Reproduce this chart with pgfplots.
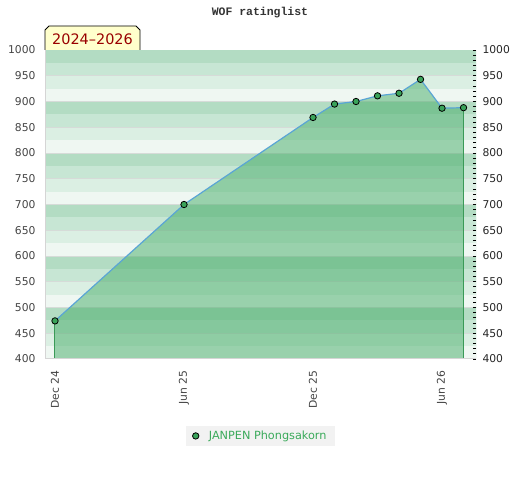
\documentclass[border=0pt]{standalone}
\usepackage{pgfplots}
\pgfplotsset{compat=1.18}
\usepackage{fontspec}
\setmainfont{DejaVu Sans}
\newfontfamily\monob{Liberation Mono}
\definecolor{bandA}{HTML}{B3DCC3}
\definecolor{bandB}{HTML}{C7E6D4}
\definecolor{bandC}{HTML}{DBEFE3}
\definecolor{bandD}{HTML}{EFF7F2}
\definecolor{gridc}{HTML}{D6DBD8}
\definecolor{fillg}{HTML}{45AC67}
\definecolor{edgeg}{HTML}{3A9A57}
\definecolor{lineb}{HTML}{5AA5D5}
\definecolor{markg}{HTML}{3AA35A}
\definecolor{legg}{HTML}{3AAA5A}
\definecolor{legbg}{HTML}{F2F2F2}
\definecolor{labg}{HTML}{444444}
\definecolor{axg}{HTML}{D5D5D5}
\definecolor{boxy}{HTML}{FFFFCC}
\definecolor{boxr}{HTML}{990000}
\begin{document}
\begin{tikzpicture}
\path[use as bounding box] (0,0) rectangle (520bp,480bp);
\begin{axis}[
  at={(45bp,121bp)}, anchor=south west,
  scale only axis, width=431bp, height=309bp,
  xmin=-0.465, xmax=19.58, ymin=400, ymax=1000,
  axis line style={draw=none},
  xtick={0,6,12,18}, xticklabels={Dec 24,Jun 25,Dec 25,Jun 26},
  ytick={400,450,...,1000},
  major tick length=0pt,
  /pgf/number format/assume math mode=true,
  /pgf/number format/1000 sep={},
  tick label style={font=\fontsize{10.8}{12}\selectfont, text=labg},
  xticklabel style={rotate=90, anchor=east},
  xticklabel shift=8bp,
  yticklabel shift=6bp,
  legend style={at={(0.5,-0.249)}, anchor=center, fill=legbg, draw=none,
    font=\fontsize{11.3}{13}\selectfont, text=legg, inner xsep=7bp, inner ysep=3bp,
    /tikz/every odd column/.append style={column sep=8bp}},
  legend image code/.code={\draw[#1] plot coordinates {(0bp,0bp)};},
  legend cell align=left,
]
\fill[bandA] (axis cs:-1,400) rectangle (axis cs:21,1000);
\pgfplotsinvokeforeach{4,5,6,7,8,9}{
  \fill[bandB] (axis cs:-1,#150) rectangle (axis cs:21,#175);
  \fill[bandC] (axis cs:-1,#125) rectangle (axis cs:21,#150);
  \fill[bandD] (axis cs:-1,#100) rectangle (axis cs:21,#125);
  \draw[gridc, line width=0.6bp] (axis cs:-1,#150) -- (axis cs:21,#150);
  \draw[gridc, line width=0.6bp] (axis cs:-1,#100) -- (axis cs:21,#100);
}
\addplot[fill=fillg, fill opacity=0.5, draw=none, forget plot] coordinates {
  (0,400) (0,474) (6,700) (12,869) (13,895) (14,900) (15,911) (16,916) (17,943) (18,887) (19,888) (19,400)
};
\addplot[edgeg, line width=1bp, forget plot] coordinates {(0,400) (0,474)};
\addplot[edgeg, line width=1bp, forget plot] coordinates {(19,888) (19,400)};
\addplot[lineb, line width=1.2bp, forget plot] coordinates {
  (0,474) (6,700) (12,869) (13,895) (14,900) (15,911) (16,916) (17,943) (18,887) (19,888)
};
\draw[axg, line width=1.5bp] (rel axis cs:0,1) -- (rel axis cs:0,0) -- (rel axis cs:1,0);
\addplot[only marks, mark=*, mark size=3.2bp, mark options={fill=markg, draw=black, line width=0.8bp}] coordinates {
  (0,474) (6,700) (12,869) (13,895) (14,900) (15,911) (16,916) (17,943) (18,887) (19,888)
};
\addlegendentry{JANPEN Phongsakorn}
\end{axis}
\begin{axis}[
  at={(45bp,121bp)}, anchor=south west,
  scale only axis, width=431bp, height=309bp,
  xmin=-0.465, xmax=19.58, ymin=400, ymax=1000,
  hide x axis,
  axis y line*=right,
  y axis line style={draw=none},
  ytick={400,450,...,1000},
  minor y tick num=4,
  tick align=inside,
  major tick length=3.5bp, minor tick length=3.5bp,
  every tick/.style={color=black, line width=0.8bp},
  /pgf/number format/assume math mode=true,
  /pgf/number format/1000 sep={},
  yticklabel style={font=\fontsize{10.8}{12}\selectfont, text=black!85},
  yticklabel shift=3bp,
]
\addplot[draw=none] coordinates {(0,400)};
\end{axis}
\filldraw[fill=boxy, draw=black, line width=0.8bp] (45bp,430bp) -- (45bp,450bp) -- (49bp,454bp) -- (136bp,454bp) -- (140bp,450bp) -- (140bp,430bp);
\node[text=boxr, font=\fontsize{14.5}{16}\selectfont] at (92.5bp,441bp) {2024–2026};
\node[text=black!80, font=\monob\bfseries\fontsize{11.5}{13}\selectfont] at (260bp,467bp) {WOF ratinglist};
\end{tikzpicture}
\end{document}
